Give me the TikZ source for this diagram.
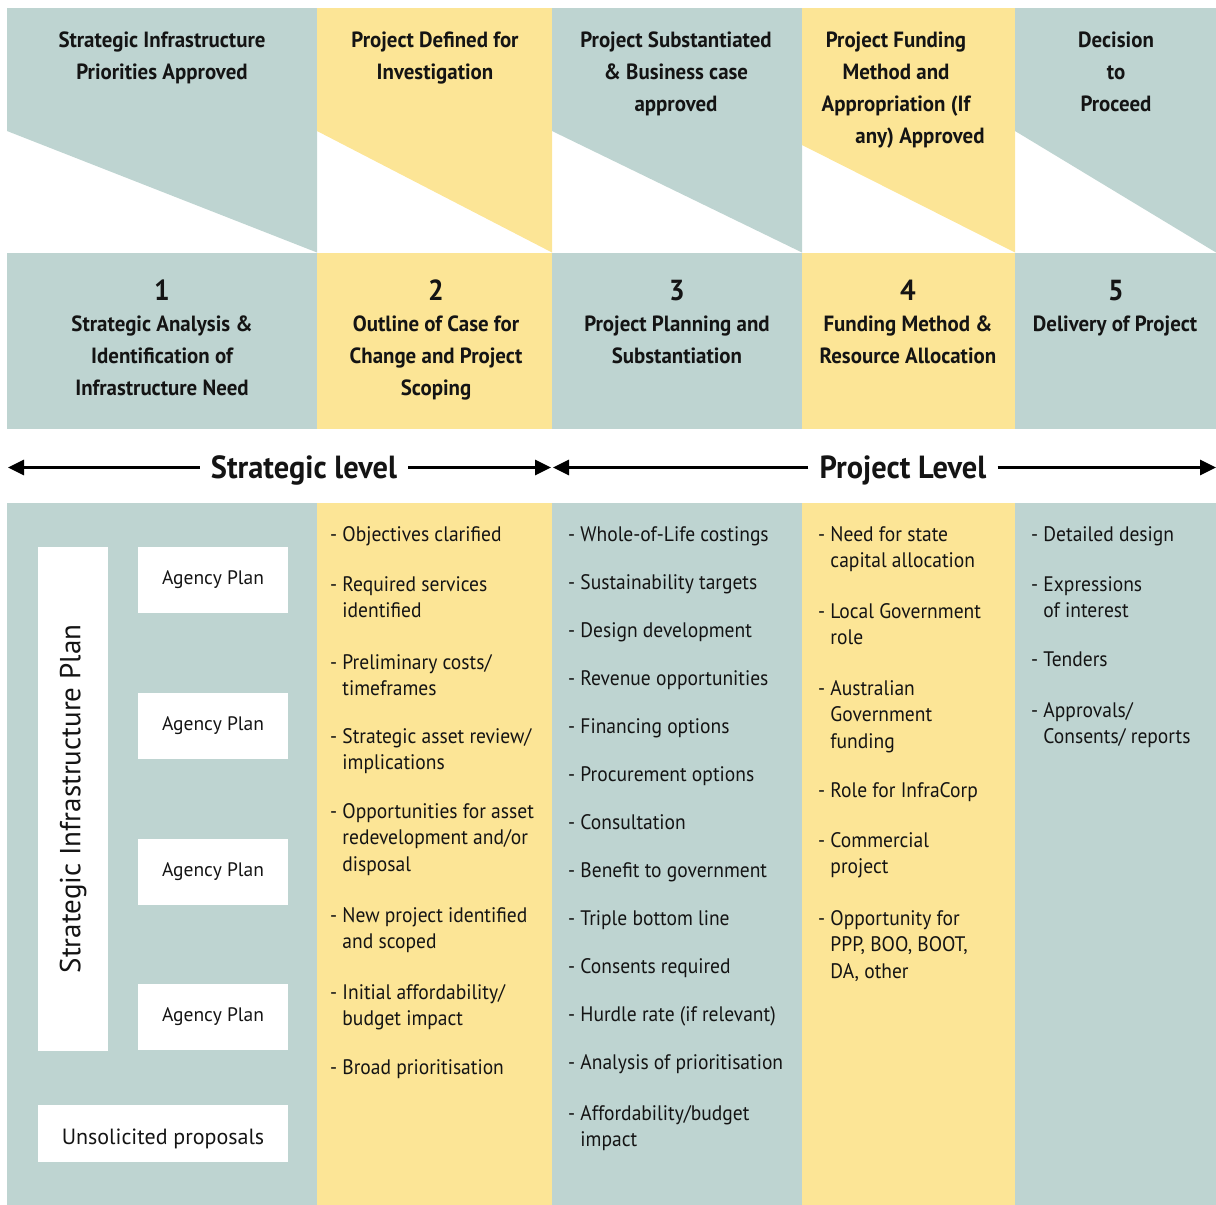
\documentclass[tikz,border=0pt]{standalone}
\usepackage{fontspec}
\setmainfont{PT Sans}[FakeStretch=0.93]
\newfontfamily\bfam{PT Sans}[FakeStretch=0.95]
\newfontfamily\wfam{PT Sans}
\usetikzlibrary{arrows.meta}
\definecolor{sgrey}{HTML}{BED4D1}
\definecolor{syell}{HTML}{FCE596}
\definecolor{ink}{HTML}{141414}
\newcommand\tstrut{\rule{0pt}{0.8em}}
\newcommand\ind{\phantom{- }}
\newcommand\itm[4]{\node[item] (#1) at (#2,#3-9.8) {\tstrut #4};}
\begin{document}
\begin{tikzpicture}[x=1pt,y=-1pt,
  hdr/.style={font=\bfam\bfseries\fontsize{22}{32}\selectfont, align=center, text=ink, inner sep=0pt, anchor=north},
  num/.style={font=\bfam\bfseries\fontsize{29}{32}\selectfont, text=ink, inner sep=0pt, anchor=base},
  item/.style={font=\fontsize{21}{26.5}\selectfont, align=left, text=ink, inner sep=0pt, anchor=north west},
  lvl/.style={font=\bfam\bfseries\fontsize{32}{36}\selectfont, text=ink, inner xsep=11pt, inner ysep=0pt, anchor=base},
  wbox/.style={fill=white, inner sep=0pt, text=ink},
  arr/.style={line width=3pt, -{Triangle[length=16pt,width=15pt]}},
]
\useasboundingbox (0,0) rectangle (1216,1205);
% top band
\fill[sgrey] (7,8) -- (317,8) -- (317,252.5) -- (7,131) -- cycle;
\fill[syell] (317,8) -- (552,8) -- (552,252.5) -- (317,131) -- cycle;
\fill[sgrey] (552,8) -- (802,8) -- (802,252.5) -- (552,131) -- cycle;
\fill[syell] (802,8) -- (1015,8) -- (1015,252.5) -- (802,145) -- cycle;
\fill[sgrey] (1015,8) -- (1216,8) -- (1216,252.5) -- (1015,131) -- cycle;
% second band
\fill[sgrey] (7,253) rectangle (317,429);
\fill[syell] (317,253) rectangle (552,429);
\fill[sgrey] (552,253) rectangle (802,429);
\fill[syell] (802,253) rectangle (1015,429);
\fill[sgrey] (1015,253) rectangle (1216,429);
% bottom band
\fill[sgrey] (7,503) rectangle (317,1205);
\fill[syell] (317,503) rectangle (552,1205);
\fill[sgrey] (552,503) rectangle (802,1205);
\fill[syell] (802,503) rectangle (1015,1205);
\fill[sgrey] (1015,503) rectangle (1216,1205);

% headers
\node[hdr] (h1) at (162,29.4) {\tstrut Strategic Infrastructure\\Priorities Approved};
\node[hdr] (h2) at (435,29.4) {\tstrut Project Defined for\\Investigation};
\node[hdr] (h3) at (676,29.4) {\tstrut Project Substantiated\\\& Business case\\approved};
\node[hdr] (h4) at (896,29.4) {\tstrut Project Funding\\Method and\\Appropriation (If\\\hspace*{48pt}any) Approved};
\node[hdr] (h5) at (1116,29.4) {\tstrut Decision\\to\\Proceed};

% stage numbers and titles
\node[num] (n1) at (162,300) {1};
\node[num] (n2) at (436,300) {2};
\node[num] (n3) at (677,300) {3};
\node[num] (n4) at (908,300) {4};
\node[num] (n5) at (1116,300) {5};
\node[hdr] (t1) at (162,313.4) {\tstrut Strategic Analysis \&\\Identification of\\Infrastructure Need};
\node[hdr] (t2) at (436,313.4) {\tstrut Outline of Case for\\Change and Project\\Scoping};
\node[hdr] (t3) at (677,313.4) {\tstrut Project Planning and\\Substantiation};
\node[hdr] (t4) at (908,313.4) {\tstrut Funding Method \&\\Resource Allocation};
\node[hdr] (t5) at (1115,313.4) {\tstrut Delivery of Project};

% level arrows
\node[lvl] (slv) at (304,478) {Strategic level};
\node[lvl] (plv) at (903,478) {Project Level};
\coordinate (aL) at (8,467.5);
\coordinate (aM1) at (551,467.5);
\coordinate (aM2) at (553,467.5);
\coordinate (aR) at (1216,467.5);
\draw[arr] (slv.west |- aL) -- (aL);
\draw[arr] (slv.east |- aL) -- (aM1);
\draw[arr] (plv.west |- aL) -- (aM2);
\draw[arr] (plv.east |- aL) -- (aR);

% column 1 boxes
\node[wbox, rotate=90, minimum width=504pt, minimum height=70pt, font=\wfam\fontsize{29}{30}\selectfont] (sip) at (73,799) {Strategic Infrastructure Plan};
\node[wbox, minimum width=150pt, minimum height=66pt, font=\wfam\fontsize{19.5}{22}\selectfont] (ap1) at (213,580) {Agency Plan};
\node[wbox, minimum width=150pt, minimum height=66pt, font=\wfam\fontsize{19.5}{22}\selectfont] (ap2) at (213,726) {Agency Plan};
\node[wbox, minimum width=150pt, minimum height=66pt, font=\wfam\fontsize{19.5}{22}\selectfont] (ap3) at (213,871.5) {Agency Plan};
\node[wbox, minimum width=150pt, minimum height=66pt, font=\wfam\fontsize{19.5}{22}\selectfont] (ap4) at (213,1016.5) {Agency Plan};
\node[wbox, minimum width=250pt, minimum height=57pt, text height=22pt, text depth=0pt, font=\wfam\fontsize{22}{24}\selectfont] (usp) at (163,1133.5) {Unsolicited proposals};

% column 2
\itm{c2a}{330}{534}{- Objectives clarified}
\itm{c2b}{330}{584}{- Required services\\\ind identified}
\itm{c2c}{330}{662}{- Preliminary costs/\\\ind timeframes}
\itm{c2d}{330}{736}{- Strategic asset review/\\\ind implications}
\itm{c2e}{330}{811}{- Opportunities for asset\\\ind redevelopment and/or\\\ind disposal}
\itm{c2f}{330}{915}{- New project identified\\\ind and scoped}
\itm{c2g}{330}{992}{- Initial affordability/\\\ind budget impact}
\itm{c2h}{330}{1067}{- Broad prioritisation}

% column 3
\itm{c3a}{568}{534}{- Whole-of-Life costings}
\itm{c3b}{568}{582}{- Sustainability targets}
\itm{c3c}{568}{630}{- Design development}
\itm{c3d}{568}{678}{- Revenue opportunities}
\itm{c3e}{568}{726}{- Financing options}
\itm{c3f}{568}{774}{- Procurement options}
\itm{c3g}{568}{822}{- Consultation}
\itm{c3h}{568}{870}{- Benefit to government}
\itm{c3i}{568}{918}{- Triple bottom line}
\itm{c3j}{568}{966}{- Consents required}
\itm{c3k}{568}{1014}{- Hurdle rate (if relevant)}
\itm{c3l}{568}{1062}{- Analysis of prioritisation}
\itm{c3m}{568}{1113}{- Affordability/budget\\\ind impact}

% column 4
\itm{c4a}{818}{534}{- Need for state\\\ind capital allocation}
\itm{c4b}{818}{611}{- Local Government\\\ind role}
\itm{c4c}{818}{688}{- Australian\\\ind Government\\\ind funding}
\itm{c4d}{818}{790}{- Role for InfraCorp}
\itm{c4e}{818}{840}{- Commercial\\\ind project}
\itm{c4f}{818}{918}{- Opportunity for\\\ind PPP, BOO, BOOT,\\\ind DA, other}

% column 5
\itm{c5a}{1031}{534}{- Detailed design}
\itm{c5b}{1031}{584}{- Expressions\\\ind of interest}
\itm{c5c}{1031}{659}{- Tenders}
\itm{c5d}{1031}{710}{- Approvals/\\\ind Consents/ reports}
\end{tikzpicture}
\end{document}
